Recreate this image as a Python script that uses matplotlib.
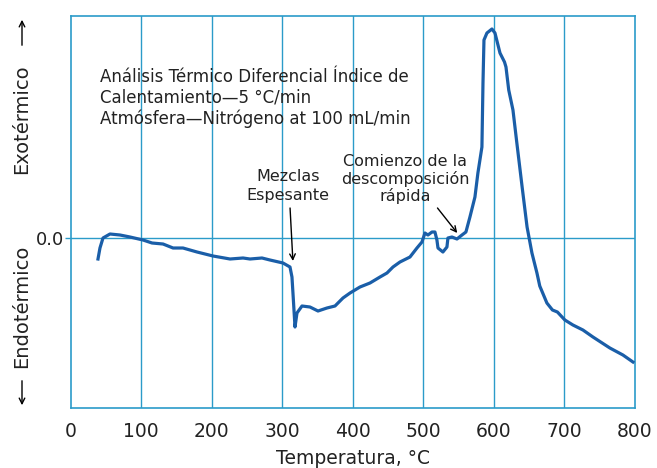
import matplotlib.pyplot as plt

plt.rcParams["font.family"] = ["DejaVu Sans"]

# ===== Data: DTA curve (temperature in °C, signal in arbitrary units) =====
temp = [38.7, 41.5, 45.8, 55.7, 69.9, 84.1, 102.5, 115.3, 130.9, 145.1,
        159.2, 179.1, 201.8, 225.9, 244.3, 254.2, 271.2, 282.5, 301.0, 310.9,
        313.7, 315.1, 318.0, 320.8, 327.9, 339.2, 350.6, 363.3, 374.7, 386.0,
        396.0, 410.1, 424.3, 438.5, 448.4, 456.9, 466.8, 481.0, 490.9, 498.0,
        502.2, 506.5, 512.2, 516.4, 519.2, 520.7, 527.7, 533.4, 534.8, 540.5,
        547.6, 554.7, 560.3, 566.0, 573.1, 577.3, 583.0, 584.5, 585.9, 590.1,
        597.2, 601.5, 608.6, 615.0, 617.1, 621.0, 627.0, 632.0, 640.0, 647.0,
        653.9, 661.0, 665.0, 675.1, 683.0, 690.0, 700.6, 712.0, 726.2, 740.4,
        764.4, 782.9, 797.1]
signal = [-21, -10, 0, 4, 3, 1, -2, -5, -6, -10,
          -10, -14, -18, -21, -20, -21, -20, -22, -25, -29,
          -39, -55, -89, -75, -68, -69, -73, -70, -68, -60,
          -55, -49, -45, -39, -35, -29, -24, -19, -10, -4,
          5, 3, 6, 6, -2, -10, -14, -9, 0, 1,
          -1, 3, 6, 21, 41, 65, 91, 155, 198, 205,
          209, 205, 185, 176, 171, 148, 128, 98, 51, 11,
          -15, -35, -48, -65, -72, -74, -82, -87, -92, -99,
          -110, -117, -124]

x_ticks = [0, 100, 200, 300, 400, 500, 600, 700, 800]
info_text = ("Análisis Térmico Diferencial Índice de\n"
             "Calentamiento—5 °C/min\n"
             "Atmósfera—Nitrógeno at 100 mL/min")

frame_color = "#2b9bc9"
curve_color = "#1a5ea8"
text_color = "#222222"

fig = plt.figure(figsize=(6.57, 4.68), dpi=100)
ax = fig.add_axes([0.1076, 0.1282, 0.8589, 0.8376])

# grid: vertical lines every 100 °C and the zero line
for t in x_ticks[1:-1]:
    ax.axvline(t, color=frame_color, lw=1.0, zorder=1)
ax.axhline(0, color=frame_color, lw=1.0, zorder=1)

ax.plot(temp, signal, color=curve_color, lw=2.3, solid_joinstyle="round", zorder=3)

ax.set_xlim(0, 800)
ax.set_ylim(-170, 222)
ax.set_xticks(x_ticks)
ax.set_yticks([0])
ax.set_yticklabels(["0.0"])
ax.tick_params(axis="x", length=0, pad=10, labelsize=13.5, labelcolor=text_color)
ax.tick_params(axis="y", length=4, width=1.0, color=frame_color, pad=1,
               labelsize=13, labelcolor=text_color)
for s in ax.spines.values():
    s.set_color(frame_color)
    s.set_linewidth(1.2)

ax.set_xlabel("Temperatura, °C", fontsize=13.5, color=text_color, labelpad=6)

# annotations
ax.text(41.5, 170, info_text, fontsize=12, color=text_color,
        ha="left", va="top", linespacing=1.18)

ax.text(308, 52, "Mezclas\nEspesante", fontsize=11.5, color=text_color,
        ha="center", va="center", linespacing=1.3)
ax.annotate("", xy=(315, -23), xytext=(311, 30),
            arrowprops=dict(arrowstyle="->", color="black", lw=1.0,
                            shrinkA=0, shrinkB=0))
ax.text(474, 59, "Comienzo de la\ndescomposición\nrápida", fontsize=11.5,
        color=text_color, ha="center", va="center", linespacing=1.1)
ax.annotate("", xy=(548, 5), xytext=(520, 30),
            arrowprops=dict(arrowstyle="->", color="black", lw=1.0,
                            shrinkA=0, shrinkB=0))

# side labels
fig.text(22 / 657, 1 - 119 / 468, "Exotérmico", rotation=90, fontsize=14,
         color=text_color, ha="center", va="center")
fig.text(22 / 657, 1 - 306 / 468, "Endotérmico", rotation=90, fontsize=14,
         color=text_color, ha="center", va="center")
ax.annotate("", xy=(22, 468 - 17), xytext=(22, 468 - 48), xycoords="figure pixels",
            textcoords="figure pixels",
            arrowprops=dict(arrowstyle="->", color="black", lw=1.0))
ax.annotate("", xy=(22, 468 - 408), xytext=(22, 468 - 378), xycoords="figure pixels",
            textcoords="figure pixels",
            arrowprops=dict(arrowstyle="->", color="black", lw=1.0))

fig.savefig("out.png", dpi=100)
